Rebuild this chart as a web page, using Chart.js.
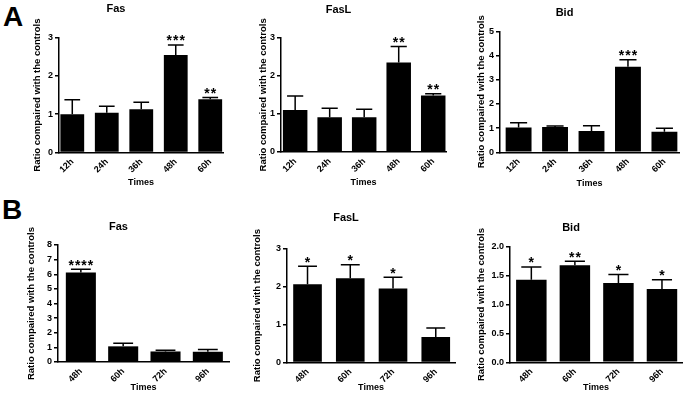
<!DOCTYPE html>
<html>
<head>
<meta charset="utf-8">
<script src="https://cdn.jsdelivr.net/npm/chart.js@4.4.0/dist/chart.umd.min.js"></script>
<style>
  body { margin: 0; background: #fff; }
  #page { position: relative; width: 685px; height: 400px; overflow: hidden; font-family: "Liberation Sans", Arial, sans-serif; }
  #page canvas { position: absolute; }
  .tag { position: absolute; font-weight: bold; font-size: 28px; line-height: 1; color: #000; }
</style>
</head>
<body>
<div id="page">
  <div class="tag" style="left:3px;top:3px">A</div>
  <div class="tag" style="left:2px;top:196px">B</div>
</div>
<script>
// values (mean ratio, SEM, significance marks)
const timesA = ['12h', '24h', '36h', '48h', '60h'];
const timesB = ['48h', '60h', '72h', '96h'];

const fasAMean  = [1.00, 1.04, 1.13, 2.55, 1.39];
const fasASem   = [0.38, 0.17, 0.18, 0.26, 0.05];
const fasAStars = ['', '', '', '***', '**'];

const faslAMean  = [1.10, 0.91, 0.91, 2.35, 1.48];
const faslASem   = [0.37, 0.24, 0.21, 0.42, 0.05];
const faslAStars = ['', '', '', '**', '**'];

const bidAMean  = [1.02, 1.05, 0.88, 3.53, 0.85];
const bidASem   = [0.20, 0.04, 0.22, 0.29, 0.14];
const bidAStars = ['', '', '', '***', ''];

const fasBMean  = [6.12, 1.07, 0.72, 0.70];
const fasBSem   = [0.23, 0.21, 0.08, 0.16];
const fasBStars = ['****', '', '', ''];

const faslBMean  = [2.06, 2.22, 1.95, 0.67];
const faslBSem   = [0.48, 0.36, 0.30, 0.24];
const faslBStars = ['*', '*', '*', ''];

const bidBMean  = [1.43, 1.68, 1.37, 1.27];
const bidBSem   = [0.22, 0.07, 0.15, 0.16];
const bidBStars = ['*', '**', '*', '*'];

const yTitle = 'Ratio compaired with the controls';
const xTitle = 'Times';
const FONT = '"Liberation Sans", Arial, sans-serif';

// where each panel sits on the page (pixels)
const panels = [
  { name: 'Fas',  labels: timesA, mean: fasAMean,  sem: fasASem,  stars: fasAStars,  yMax: 3, yStep: 1, dec: 0,
    axisX: 59, axisEnd: 222.5, top: 37.7, base: 152.5, titleY: 8.5, yTitleX: 37, timesY: 183, a: 0.385, b: 0.37, frac: 0.69, rowTop: 0, rowBottom: 200 },
  { name: 'FasL', labels: timesA, mean: faslAMean, sem: faslASem, stars: faslAStars, yMax: 3, yStep: 1, dec: 0,
    axisX: 280.5, axisEnd: 445.7, top: 37.7, base: 152, titleY: 10, yTitleX: 262.7, timesY: 183, a: 0.41, b: 0.37, frac: 0.71, rowTop: 0, rowBottom: 200 },
  { name: 'Bid',  labels: timesA, mean: bidAMean,  sem: bidASem,  stars: bidAStars,  yMax: 5, yStep: 1, dec: 0,
    axisX: 500, axisEnd: 679, top: 31.3, base: 152.3, titleY: 12.7, yTitleX: 481, timesY: 184, a: 0.51, b: 0.40, frac: 0.71, rowTop: 0, rowBottom: 200 },
  { name: 'Fas',  labels: timesB, mean: fasBMean,  sem: fasBSem,  stars: fasBStars,  yMax: 8, yStep: 1, dec: 0,
    axisX: 58, axisEnd: 229.3, top: 245, base: 362, titleY: 227, yTitleX: 31.7, timesY: 388, a: 0.54, b: 0.50, frac: 0.71, rowTop: 195, rowBottom: 400 },
  { name: 'FasL', labels: timesB, mean: faslBMean, sem: faslBSem, stars: faslBStars, yMax: 3, yStep: 1, dec: 0,
    axisX: 286.7, axisEnd: 455, top: 248.7, base: 362.5, titleY: 218.3, yTitleX: 256.7, timesY: 388, a: 0.48, b: 0.45, frac: 0.67, rowTop: 195, rowBottom: 400 },
  { name: 'Bid',  labels: timesB, mean: bidBMean,  sem: bidBSem,  stars: bidBStars,  yMax: 2, yStep: 0.5, dec: 1,
    axisX: 510, axisEnd: 681.7, top: 246.7, base: 362.3, titleY: 228.3, yTitleX: 481.7, timesY: 388, a: 0.49, b: 0.46, frac: 0.70, rowTop: 195, rowBottom: 400 }
];

// draws the SEM whiskers and the significance stars above each bar
const errorBars = {
  id: 'errorBars',
  afterDatasetsDraw(chart) {
    const ctx = chart.ctx;
    const yScale = chart.scales.y;
    const ds = chart.data.datasets[0];
    const meta = chart.getDatasetMeta(0);
    ctx.save();
    ctx.strokeStyle = '#000';
    ctx.fillStyle = '#000';
    ctx.lineWidth = 1.5;
    ctx.font = 'bold 14px ' + FONT;
    ctx.letterSpacing = '1px';
    ctx.textAlign = 'center';
    ctx.textBaseline = 'alphabetic';
    meta.data.forEach((bar, i) => {
      const p = bar.getProps(['x', 'y', 'width'], true);
      const top = yScale.getPixelForValue(ds.data[i].y + ds.sem[i]);
      const half = p.width * 0.33;
      ctx.beginPath();
      ctx.moveTo(p.x, p.y);
      ctx.lineTo(p.x, top);
      ctx.moveTo(p.x - half, top);
      ctx.lineTo(p.x + half, top);
      ctx.stroke();
      if (ds.stars[i]) ctx.fillText(ds.stars[i], p.x + 0.5, top + 0.5);
    });
    ctx.restore();
  }
};

Chart.defaults.font.family = FONT;
Chart.defaults.color = '#000';

const YW = 50;
const page = document.getElementById('page');

panels.forEach(pn => {
  const cv = document.createElement('canvas');
  const w = (pn.axisEnd - pn.axisX) + YW + 8;
  const h = pn.rowBottom - pn.rowTop;
  cv.width = Math.round(w);
  cv.height = h;
  cv.style.left = (pn.axisX - YW) + 'px';
  cv.style.top = pn.rowTop + 'px';
  cv.style.width = Math.round(w) + 'px';
  cv.style.height = h + 'px';
  page.appendChild(cv);

  const titlePadTop = pn.titleY - pn.rowTop - 6.6;
  const titlePadBottom = (pn.top - pn.rowTop) - titlePadTop - 13.2;
  const xh = pn.rowBottom - pn.base;

  new Chart(cv, {
    type: 'bar',
    data: {
      datasets: [{
        data: pn.mean.map((v, i) => ({ x: i, y: v })),
        sem: pn.sem,
        stars: pn.stars,
        backgroundColor: '#000',
        borderWidth: 0,
        categoryPercentage: 1,
        barPercentage: pn.frac
      }]
    },
    options: {
      responsive: false,
      animation: false,
      devicePixelRatio: 1,
      layout: { padding: { top: 0, left: 0, bottom: 0, right: 8 } },
      plugins: {
        legend: { display: false },
        tooltip: { enabled: false },
        title: {
          display: true,
          text: pn.name,
          font: { size: 11, weight: 'bold' },
          color: '#000',
          padding: { top: titlePadTop, bottom: titlePadBottom }
        }
      },
      scales: {
        x: {
          type: 'linear',
          offset: false,
          min: -pn.a,
          max: pn.labels.length - 1 + pn.b,
          afterBuildTicks: s => { s.ticks = pn.labels.map((_, i) => ({ value: i })); },
          afterFit: s => { s.height = xh; },
          grid: { display: false, drawTicks: false, offset: false },
          border: { display: true, color: '#000', width: 1.5 },
          ticks: {
            autoSkip: false,
            minRotation: 45,
            maxRotation: 45,
            padding: 4,
            font: { size: 9, weight: 'bold' },
            callback: v => pn.labels[v]
          },
          title: {
            display: true,
            text: xTitle,
            font: { size: 9, weight: 'bold' },
            padding: { top: 0, bottom: pn.rowBottom - pn.timesY - 5.4 }
          }
        },
        y: {
          min: 0,
          max: pn.yMax,
          afterFit: s => { s.width = YW; },
          grid: { display: true, drawOnChartArea: false, drawTicks: true, tickLength: 4, color: '#000', lineWidth: 1.5 },
          border: { display: true, color: '#000', width: 1.5 },
          ticks: {
            stepSize: pn.yStep,
            padding: 2,
            font: { size: 9, weight: 'bold' },
            callback: v => v.toFixed(pn.dec)
          },
          title: {
            display: true,
            text: yTitle,
            font: { size: 9.5, weight: 'bold' },
            padding: { top: pn.yTitleX - (pn.axisX - YW) - 5.7, bottom: 0 }
          }
        }
      }
    },
    plugins: [errorBars]
  });
});
</script>
</body>
</html>
